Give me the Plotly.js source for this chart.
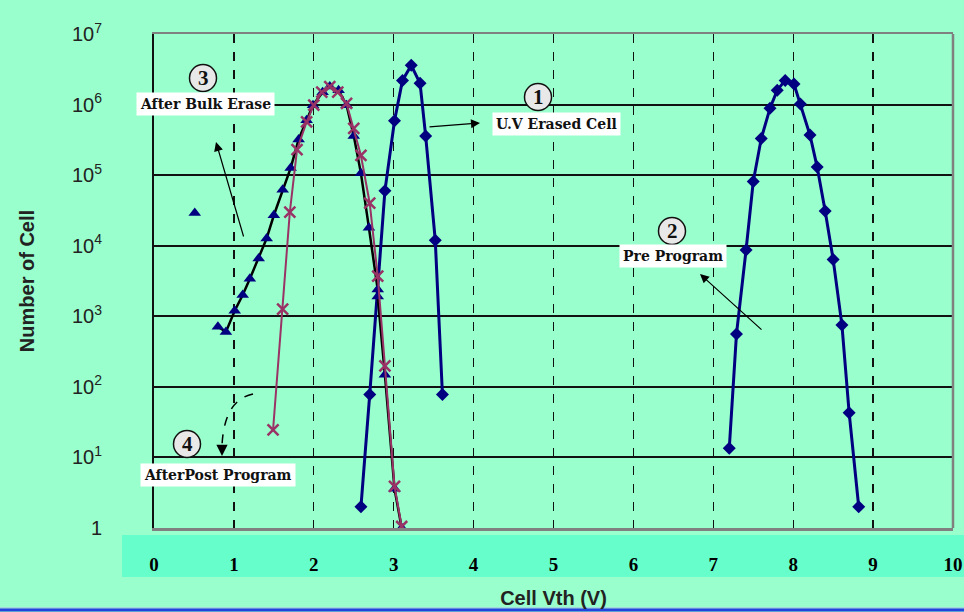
<!DOCTYPE html>
<html>
<head>
<meta charset="utf-8">
<script src="https://cdn.plot.ly/plotly-3.0.1.min.js"></script>
<style>html,body{margin:0;padding:0;background:#99FFCC;}#chart{width:964px;height:612px;}</style>
</head>
<body>
<div id="chart"></div>
<script>
// ---- data ----
const uvX = [2.59, 2.70, 2.89, 3.01, 3.11, 3.22, 3.33, 3.40, 3.52, 3.61];
const uvY = [2, 78, 60000, 590000, 2200000, 3600000, 2000000, 360000, 12000, 78];

const preX = [7.20, 7.29, 7.41, 7.50, 7.60, 7.71, 7.80, 7.90, 8.01, 8.09, 8.21, 8.30, 8.40, 8.50, 8.61, 8.70, 8.82];
const preY = [13.5, 560, 8700, 81000, 330000, 890000, 1600000, 2200000, 1950000, 1020000, 370000, 130000, 31000, 6400, 750, 43, 2.0];

const bulkX = [0.80, 0.90, 1.01, 1.11, 1.20, 1.31, 1.41, 1.50, 1.61, 1.71, 1.81, 1.91, 1.99, 2.11, 2.20, 2.31, 2.41, 2.50, 2.59, 2.69, 2.80, 2.80, 2.89, 3.01, 3.10];
const bulkY = [710, 600, 1200, 2000, 3400, 6600, 12700, 27000, 62000, 126000, 320000, 600000, 980000, 1500000, 1800000, 1600000, 980000, 360000, 106000, 18000, 2400, 1900, 148, 3.6, 1];
const bulkOutlierX = [0.51];
const bulkOutlierY = [29000];

const postX = [1.49, 1.61, 1.70, 1.79, 1.91, 2.00, 2.10, 2.20, 2.30, 2.41, 2.50, 2.59, 2.70, 2.80, 2.89, 3.01, 3.10];
const postY = [24.5, 1260, 30000, 230000, 570000, 980000, 1500000, 1800000, 1500000, 1040000, 460000, 190000, 40000, 3700, 198, 3.9, 1.05];

const xTickVals = [0, 1, 2, 3, 4, 5, 6, 7, 8, 9, 10];
const xTickText = ['0', '1', '2', '3', '4', '5', '6', '7', '8', '9', '10'];
const yTickVals = [1, 10, 100, 1000, 10000, 100000, 1000000, 10000000];
const yTickText = ['1', '10<sup>1</sup>', '10<sup>2</sup>', '10<sup>3</sup>', '10<sup>4</sup>', '10<sup>5</sup>', '10<sup>6</sup>', '10<sup>7</sup>'];

const labelTexts = ['U.V Erased Cell', 'Pre Program', 'After Bulk Erase', 'AfterPost Program'];
const circleTexts = ['1', '2', '3', '4'];

// ---- layout helpers (pixel -> paper) ----
const L = 154, R = 953, T = 34, B = 528, W = 964, H = 612;
const px = x => (x - L) / (R - L);
const py = y => (B - y) / (B - T);

const NAVY = '#000080';
const MAG = '#993366';
const BG = '#99FFCC';

const traces = [
  {x: preX, y: preY, mode: 'lines+markers', type: 'scatter',
   line: {color: NAVY, width: 3}, marker: {symbol: 'diamond', size: 10, color: NAVY}},
  {x: uvX, y: uvY, mode: 'lines+markers', type: 'scatter',
   line: {color: NAVY, width: 3}, marker: {symbol: 'diamond', size: 10, color: NAVY}},
  {x: bulkX, y: bulkY, mode: 'lines+markers', type: 'scatter',
   line: {color: '#000000', width: 2.5}, marker: {symbol: 'triangle-up', size: 11, color: NAVY}},
  {x: bulkOutlierX, y: bulkOutlierY, mode: 'markers', type: 'scatter',
   marker: {symbol: 'triangle-up', size: 11, color: NAVY}},
  {x: postX, y: postY, mode: 'lines+markers', type: 'scatter',
   line: {color: MAG, width: 2}, marker: {symbol: 'x-thin', size: 11, color: MAG, line: {color: MAG, width: 2.5}}}
];

const boxFont = {family: 'DejaVu Serif, Liberation Serif, serif', size: 14, weight: 'bold', color: '#111'};
const circFont = {family: 'Liberation Serif, Times New Roman, serif', size: 21, weight: 'bold', color: '#111'};

const boxPos = [[556, 124], [673, 256], [205, 104], [218, 475]];
const circPos = [[538, 97], [672, 231], [203, 78], [187, 444]];

const annotations = [];
const shapes = [];

// tick label band
shapes.push({type: 'rect', xref: 'paper', yref: 'paper', layer: 'below',
  x0: px(122), x1: px(W), y0: py(577), y1: py(535), fillcolor: '#66FFCC', line: {width: 0}});
// bottom blue rule
shapes.push({type: 'line', xref: 'paper', yref: 'paper', x0: px(0), x1: px(W), y0: py(608), y1: py(608),
  line: {color: '#aab0ee', width: 1}});
shapes.push({type: 'line', xref: 'paper', yref: 'paper', x0: px(0), x1: px(W), y0: py(610), y1: py(610),
  line: {color: '#2244dd', width: 3}});
// right frame edge
shapes.push({type: 'line', xref: 'paper', yref: 'paper', x0: 1, x1: 1, y0: 0, y1: 1,
  line: {color: '#808080', width: 2.5}});

labelTexts.forEach((t, i) => {
  annotations.push({xref: 'paper', yref: 'paper', x: px(boxPos[i][0]), y: py(boxPos[i][1]),
    xanchor: 'center', yanchor: 'middle', text: t, showarrow: false,
    bgcolor: '#ffffff', borderpad: 3, font: boxFont});
});
circleTexts.forEach((t, i) => {
  shapes.push({type: 'circle', xref: 'paper', yref: 'paper', xsizemode: 'pixel', ysizemode: 'pixel',
    xanchor: px(circPos[i][0]), yanchor: py(circPos[i][1]), x0: -13.5, x1: 13.5, y0: -13.5, y1: 13.5,
    fillcolor: '#e8e8e8', line: {color: '#111', width: 1.5}});
  annotations.push({xref: 'paper', yref: 'paper', x: px(circPos[i][0]), y: py(circPos[i][1]),
    xanchor: 'center', yanchor: 'middle', text: t, showarrow: false, font: circFont});
});

// arrows: [headX, headY, tailX, tailY]
const arrows = [[480, 123, 428, 127], [700, 274, 763, 331], [216, 142, 244, 238]];
arrows.forEach(a => {
  annotations.push({xref: 'paper', yref: 'paper', x: px(a[0]), y: py(a[1]), ax: a[2] - a[0], ay: a[3] - a[1],
    text: '', showarrow: true, arrowhead: 2, arrowsize: 1.5, arrowwidth: 1.2, arrowcolor: '#000'});
});
// curved dashed arrow for AfterPost Program
shapes.push({type: 'path', xref: 'paper', yref: 'paper',
  path: `M ${px(253)},${py(394)} Q ${px(224)},${py(400)} ${px(222)},${py(446)}`,
  line: {color: '#000', width: 1.5, dash: 'dash'}});
annotations.push({xref: 'paper', yref: 'paper', x: px(222), y: py(456), ax: 0, ay: -11,
  text: '', showarrow: true, arrowhead: 2, arrowsize: 1.6, arrowwidth: 1.4, arrowcolor: '#000'});

const layout = {
  width: W, height: H,
  margin: {l: L, r: W - R, t: T, b: H - B},
  paper_bgcolor: BG, plot_bgcolor: BG,
  showlegend: false,
  xaxis: {
    range: [0, 10], tickvals: xTickVals, ticktext: xTickText,
    tickfont: {family: 'Liberation Serif, Times New Roman, serif', size: 19, weight: 'bold', color: '#000'},
    ticks: '', ticklabelstandoff: 18,
    showgrid: true, gridcolor: '#111', gridwidth: 1.3, griddash: 'dash',
    showline: true, linecolor: '#808080', linewidth: 2.5, mirror: true,
    zeroline: false,
    title: {text: 'Cell Vth (V)', font: {family: 'Liberation Sans, Arial, sans-serif', size: 20, weight: 'bold', color: '#222'}, standoff: 17}
  },
  yaxis: {
    type: 'log', range: [0, 7], tickvals: yTickVals, ticktext: yTickText,
    tickfont: {family: 'Liberation Sans, Arial, sans-serif', size: 20, color: '#222'},
    ticks: '', ticklabelstandoff: 46,
    showgrid: true, gridcolor: '#111', gridwidth: 2,
    showline: true, linecolor: '#111', linewidth: 2,
    zeroline: false,
    title: {text: 'Number of Cell', font: {family: 'Liberation Sans, Arial, sans-serif', size: 20, weight: 'bold', color: '#222'}, standoff: 32}
  },
  shapes: shapes,
  annotations: annotations
};

Plotly.newPlot('chart', traces, layout, {displayModeBar: false, staticPlot: true});
</script>
</body>
</html>
